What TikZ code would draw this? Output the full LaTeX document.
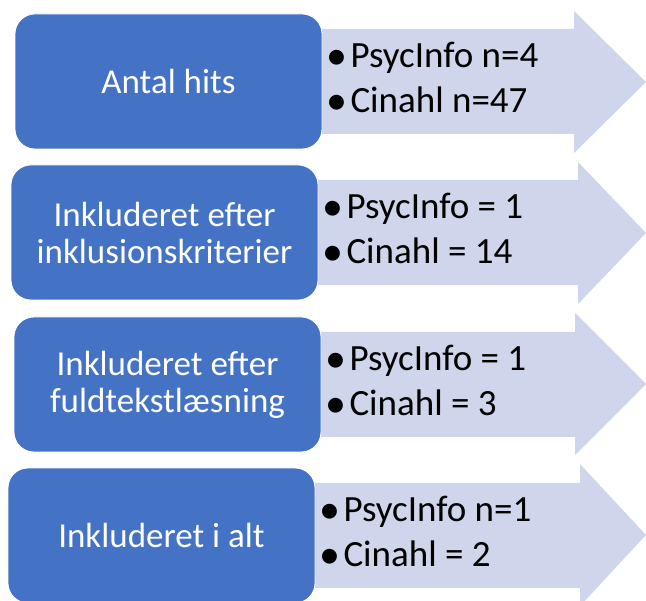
\documentclass[tikz,border=0pt]{standalone}
\usepackage{fontspec}
\setmainfont{Carlito}
\usetikzlibrary{positioning}
\definecolor{boxblue}{HTML}{4472C4}
\definecolor{arrowlilac}{HTML}{CFD5EA}
\newcommand{\listdot}{{\fontsize{42}{45}\selectfont\raisebox{-1.5pt}{\textbullet}}\hspace{3pt}}

\begin{document}
\begin{tikzpicture}[x=1pt, y=-1pt,
		stepbox/.style={fill=boxblue, draw=white, line width=0.8pt, rounded corners=20pt,
			minimum width=307pt, minimum height=135pt, text=white, align=center,
			font=\fontsize{35}{37}\selectfont},
		bulletlist/.style={align=left, inner sep=0pt, yshift=3pt, font=\fontsize{37}{45}\selectfont},
		listarrow/.style={fill=arrowlilac}]
	\useasboundingbox (0,0) rectangle (646,601);
	% arrows behind the boxes
	\fill[listarrow] (310,29) -- (574,29) -- (574,11) -- (646,82) -- (574,153) -- (574,134) -- (310,134) -- cycle;
	\fill[listarrow] (306,180) -- (578,180) -- (578,162) -- (646,233) -- (578,304) -- (578,285) -- (306,285) -- cycle;
	\fill[listarrow] (310,332) -- (575,332) -- (575,313) -- (646,384) -- (575,455) -- (575,437) -- (310,437) -- cycle;
	\fill[listarrow] (303,483) -- (580,483) -- (580,464) -- (646,535) -- (580,606) -- (580,588) -- (303,588) -- cycle;

	\node[stepbox] (hits) at (168.5,81.5) {Antal hits};
	\node[stepbox] (kriterier) at (164.5,232.5) {Inkluderet efter\\inklusionskriterier};
	\node[stepbox] (fuldtekst) at (167.5,384.5) {Inkluderet efter\\fuldtekstlæsning};
	\node[stepbox] (ialt) at (161.5,535.5) {Inkluderet i alt};

	\node[bulletlist, right=4pt of hits] (hitslist) {\listdot PsycInfo n=4\\\listdot Cinahl n=47};
	\node[bulletlist, right=4pt of kriterier] (kriterierlist) {\listdot PsycInfo = 1\\\listdot Cinahl = 14};
	\node[bulletlist, right=4pt of fuldtekst] (fuldtekstlist) {\listdot PsycInfo = 1\\\listdot Cinahl = 3};
	\node[bulletlist, right=4pt of ialt] (ialtlist) {\listdot PsycInfo n=1\\\listdot Cinahl = 2};
\end{tikzpicture}
\end{document}
